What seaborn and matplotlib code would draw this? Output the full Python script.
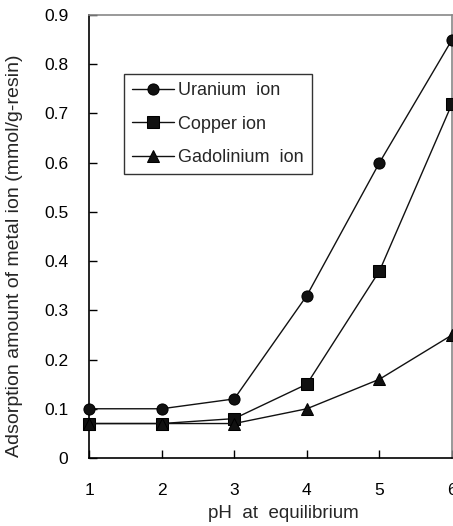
import matplotlib
matplotlib.use("Agg")
import matplotlib.pyplot as plt
import seaborn as sns
import pandas as pd

ph = [1, 2, 3, 4, 5, 6]
uranium = [0.10, 0.10, 0.12, 0.33, 0.60, 0.85]
copper = [0.07, 0.07, 0.08, 0.15, 0.38, 0.72]
gadolinium = [0.07, 0.07, 0.07, 0.10, 0.16, 0.25]
series_names = ["Uranium  ion", "Copper ion", "Gadolinium  ion"]
x_ticks = [1, 2, 3, 4, 5, 6]
y_ticks = [0, 0.1, 0.2, 0.3, 0.4, 0.5, 0.6, 0.7, 0.8, 0.9]

df = pd.DataFrame({
    "pH": ph * 3,
    "value": uranium + copper + gadolinium,
    "series": [series_names[0]] * 6 + [series_names[1]] * 6 + [series_names[2]] * 6,
})

sns.set_style("white")
plt.rcParams['font.family'] = ['Liberation Sans', 'DejaVu Sans']

fig = plt.figure(figsize=(4.53, 5.26), dpi=100)
ax = fig.add_axes([0.1965, 0.1293, 0.8015, 0.8422])

sns.lineplot(data=df, x="pH", y="value", hue="series", style="series",
             palette=["#111111"] * 3, markers=["o", "s", "^"], dashes=False,
             markersize=8, linewidth=1.0, markeredgecolor="black",
             ax=ax, clip_on=False, zorder=3)

ax.set_xlim(1, 6)
ax.set_ylim(0, 0.9)
ax.set_xticks(x_ticks)
ax.set_xticklabels([str(t) for t in x_ticks])
ax.set_yticks(y_ticks)
ax.set_yticklabels(["0"] + [f"{t:.1f}" for t in y_ticks[1:]])
ax.tick_params(axis="both", direction="in", length=6, width=1, colors="black",
               labelsize=12.5)
ax.tick_params(axis="x", pad=18, bottom=True)
ax.tick_params(axis="y", pad=15, left=True)

for s in ["left", "bottom"]:
    ax.spines[s].set_color("black")
    ax.spines[s].set_linewidth(1.2)
for s in ["top", "right"]:
    ax.spines[s].set_color("#888888")
    ax.spines[s].set_linewidth(1.2)

ax.set_xlabel("pH  at  equilibrium", fontsize=13.5)
ax.xaxis.set_label_coords((283 - 89) / 363, -0.105)
ax.set_ylabel("Adsorption amount of metal ion (mmol/g-resin)", fontsize=14)
ax.yaxis.set_label_coords(-0.183, 0.456)

leg = ax.legend(loc="upper left", bbox_to_anchor=(0.096, 0.866), fontsize=13,
                frameon=True, fancybox=False, edgecolor="black",
                handlelength=2.3, labelspacing=0.9, borderpad=0.45,
                borderaxespad=0, handletextpad=0.25, title=None)
leg.get_frame().set_linewidth(1.0)

fig.savefig("out.png", dpi=100)
